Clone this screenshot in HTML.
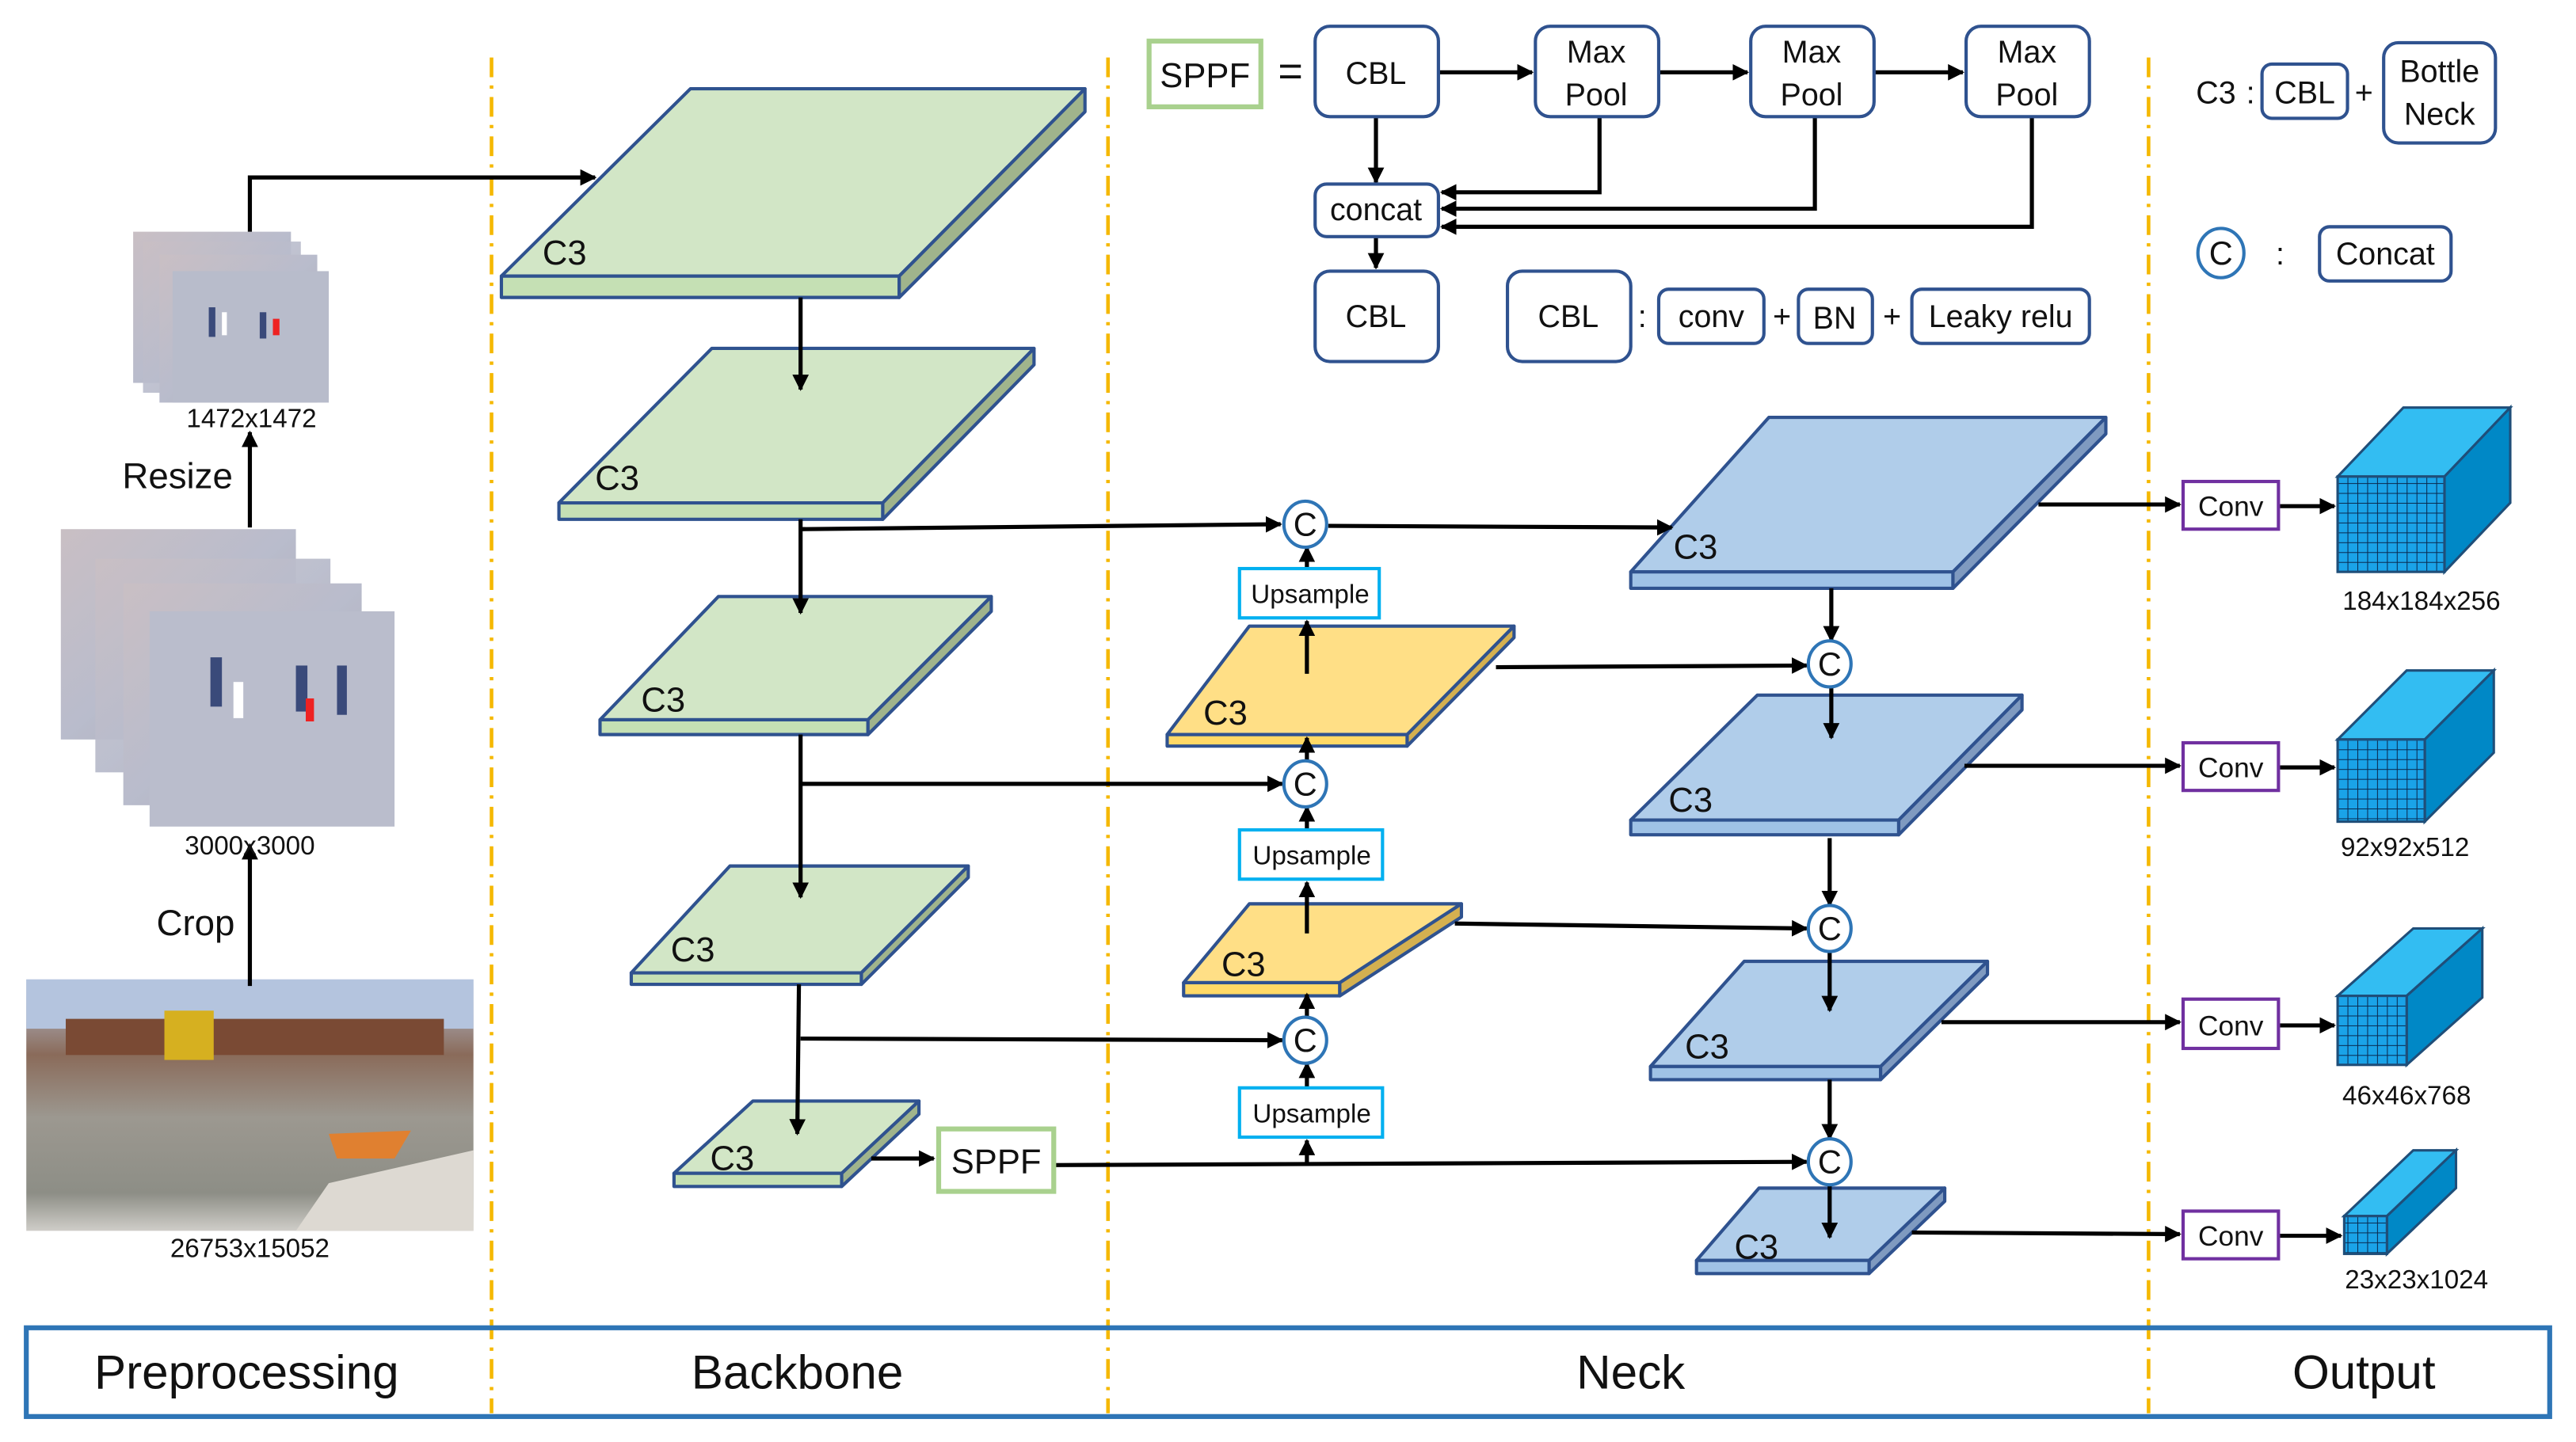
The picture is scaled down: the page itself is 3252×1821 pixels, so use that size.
<!DOCTYPE html>
<html><head><meta charset="utf-8"><style>html,body{margin:0;padding:0;background:#fff}svg{display:block}text{font-family:"Liberation Sans",sans-serif;fill:#111}</style></head><body>
<svg width="3252" height="1821" viewBox="0 0 1567 877.5" preserveAspectRatio="none" xmlns="http://www.w3.org/2000/svg">
<defs>
<marker id="a" markerWidth="10" markerHeight="10" refX="9" refY="5" orient="auto" markerUnits="userSpaceOnUse"><path d="M0,0 L10,5 L0,10 z" fill="#000"/></marker>
<pattern id="g" width="6" height="6" patternUnits="userSpaceOnUse"><rect width="6" height="6" fill="#1aa3e8"/><path d="M0,0H6M0,0V6" stroke="#0a2a50" stroke-width="1"/></pattern>
<linearGradient id="ph" x1="0" y1="0" x2="1" y2="1"><stop offset="0" stop-color="#c9bfc4"/><stop offset="0.5" stop-color="#b9bccc"/><stop offset="1" stop-color="#a9a7b0"/></linearGradient>
<linearGradient id="big" x1="0" y1="0" x2="0" y2="1"><stop offset="0" stop-color="#b8c6dc"/><stop offset="0.3" stop-color="#8a6b5a"/><stop offset="0.55" stop-color="#9c9890"/><stop offset="0.85" stop-color="#8d8e86"/><stop offset="1" stop-color="#cfcdc8"/></linearGradient>
</defs>

<g stroke="#f5b800" stroke-width="2.2" stroke-dasharray="12,5,2,5">
<line x1="299" y1="35" x2="299" y2="860"/><line x1="674" y1="35" x2="674" y2="860"/><line x1="1307" y1="35" x2="1307" y2="860"/>
</g>

<g>
<rect x="81" y="141" width="96" height="92" fill="url(#ph)"/>
<rect x="87" y="147" width="96" height="92" fill="url(#ph)" opacity="0.9"/>
<rect x="97" y="155" width="96" height="90" fill="url(#ph)"/>
<rect x="105" y="165" width="95" height="80" fill="#b8bccb"/>
<g fill="#3a4a7a"><rect x="127" y="187" width="4" height="18"/><rect x="158" y="190" width="4" height="16"/></g>
<rect x="135" y="190" width="3" height="14" fill="#fff"/><rect x="166" y="194" width="4" height="10" fill="#e22"/>
<rect x="37" y="322" width="143" height="128" fill="url(#ph)"/>
<rect x="58" y="340" width="143" height="130" fill="url(#ph)" opacity="0.95"/>
<rect x="75" y="355" width="145" height="135" fill="url(#ph)"/>
<rect x="91" y="372" width="149" height="131" fill="#babdcc"/>
<g fill="#3a4a7a"><rect x="128" y="400" width="7" height="30"/><rect x="180" y="405" width="7" height="28"/><rect x="205" y="405" width="6" height="30"/></g>
<rect x="142" y="415" width="6" height="22" fill="#fff"/><rect x="186" y="425" width="5" height="14" fill="#e22"/>
<rect x="16" y="596" width="272" height="153" fill="url(#big)"/>
<rect x="16" y="596" width="272" height="30" fill="#b4c4de"/>
<rect x="40" y="620" width="230" height="22" fill="#7a4a34"/>
<rect x="100" y="615" width="30" height="30" fill="#d6b020"/>
<polygon points="200,720 288,700 288,749 180,749" fill="#ddd9d2"/>
<polygon points="200,690 250,688 240,705 205,705" fill="#e08030"/>
</g>

<g stroke="#2f528f" stroke-width="2" stroke-linejoin="round">
<g fill="#d2e6c6">
<polygon points="420,54 660,54 547,168 305,168"/><rect x="305" y="168" width="242" height="13" fill="#c5e0b4"/><polygon points="547,168 660,54 660,68 547,181" fill="#a0b48c"/>
<polygon points="433,212 629,212 537,306 340,306"/><rect x="340" y="306" width="197" height="10" fill="#c5e0b4"/><polygon points="537,306 629,212 629,222 537,316" fill="#a0b48c"/>
<polygon points="437,363 603,363 528,438 365,438"/><rect x="365" y="438" width="163" height="9" fill="#c5e0b4"/><polygon points="528,438 603,363 603,372 528,447" fill="#a0b48c"/>
<polygon points="444,527 589,527 524,592 384,592"/><rect x="384" y="592" width="140" height="7" fill="#c5e0b4"/><polygon points="524,592 589,527 589,534 524,599" fill="#a0b48c"/>
<polygon points="458,670 559,670 512,714 410,714"/><rect x="410" y="714" width="102" height="8" fill="#c5e0b4"/><polygon points="512,714 559,670 559,678 512,722" fill="#a0b48c"/>
</g>
<g fill="#ffdf86">
<polygon points="760,381 921,381 856,447 710,447"/><rect x="710" y="447" width="146" height="7" fill="#ffd966"/><polygon points="856,447 921,381 921,388 856,454" fill="#d4b050"/>
<polygon points="760,550 889,550 815,598 720,598"/><rect x="720" y="598" width="95" height="8" fill="#ffd966"/><polygon points="815,598 889,550 889,558 815,606" fill="#d4b050"/>
</g>
<g fill="#b0cdea">
<polygon points="1076,254 1281,254 1188,348 992,348"/><rect x="992" y="348" width="196" height="10" fill="#9fc2e6"/><polygon points="1188,348 1281,254 1281,264 1188,358" fill="#7f9ac0"/>
<polygon points="1069,423 1230,423 1155,499 992,499"/><rect x="992" y="499" width="163" height="9" fill="#9fc2e6"/><polygon points="1155,499 1230,423 1230,432 1155,508" fill="#7f9ac0"/>
<polygon points="1061,585 1209,585 1144,649 1004,649"/><rect x="1004" y="649" width="140" height="8" fill="#9fc2e6"/><polygon points="1144,649 1209,585 1209,593 1144,657" fill="#7f9ac0"/>
<polygon points="1070,723 1183,723 1137,767 1032,767"/><rect x="1032" y="767" width="105" height="8" fill="#9fc2e6"/><polygon points="1137,767 1183,723 1183,731 1137,775" fill="#7f9ac0"/>
</g>
</g>
<g font-size="21">
<text x="330" y="161">C3</text><text x="362" y="298">C3</text><text x="390" y="433">C3</text><text x="408" y="585">C3</text><text x="432" y="712">C3</text>
<text x="732" y="441">C3</text><text x="743" y="594">C3</text>
<text x="1018" y="340">C3</text><text x="1015" y="494">C3</text><text x="1025" y="644">C3</text><text x="1055" y="766">C3</text>
</g>

<g stroke="#000" stroke-width="2.5" fill="none" marker-end="url(#a)">
<polyline points="152,141 152,108 362,108"/>
<line x1="152" y1="321" x2="152" y2="263"/>
<line x1="152" y1="600" x2="152" y2="514"/>
<line x1="487" y1="181" x2="487" y2="237"/>
<line x1="487" y1="316" x2="487" y2="373"/>
<line x1="487" y1="447" x2="487" y2="546"/>
<polyline points="486,599 485,690"/>
<polyline points="487,322 779,319"/>
<polyline points="487,477 780,477"/>
<polyline points="487,632 780,633"/>
<line x1="530" y1="705" x2="568" y2="705"/>
<line x1="641" y1="709" x2="1099" y2="707"/>
<line x1="795" y1="709" x2="795" y2="694"/>
<line x1="795" y1="662" x2="795" y2="647"/>
<line x1="795" y1="620" x2="795" y2="605"/>
<line x1="795" y1="568" x2="795" y2="537"/>
<line x1="795" y1="505" x2="795" y2="491"/>
<line x1="795" y1="463" x2="795" y2="449"/>
<line x1="795" y1="410" x2="795" y2="378"/>
<line x1="795" y1="346" x2="795" y2="333"/>
<line x1="808" y1="320" x2="1017" y2="321"/>
<line x1="910" y1="406" x2="1099" y2="405"/>
<line x1="885" y1="562" x2="1099" y2="565"/>
<line x1="1114" y1="358" x2="1114" y2="390"/>
<line x1="1114" y1="418" x2="1114" y2="449"/>
<line x1="1113" y1="510" x2="1113" y2="551"/>
<line x1="1113" y1="579" x2="1113" y2="615"/>
<line x1="1113" y1="657" x2="1113" y2="693"/>
<line x1="1113" y1="720" x2="1113" y2="753"/>
<line x1="1240" y1="307" x2="1326" y2="307"/>
<line x1="1195" y1="466" x2="1326" y2="466"/>
<line x1="1181" y1="622" x2="1326" y2="622"/>
<line x1="1163" y1="750" x2="1326" y2="751"/>
<line x1="1387" y1="308" x2="1420" y2="308"/>
<line x1="1387" y1="467" x2="1420" y2="467"/>
<line x1="1387" y1="624" x2="1420" y2="624"/>
<line x1="1387" y1="752" x2="1424" y2="752"/>
<line x1="875" y1="44" x2="932" y2="44"/>
<line x1="1009" y1="44" x2="1063" y2="44"/>
<line x1="1140" y1="44" x2="1194" y2="44"/>
<line x1="837" y1="71" x2="837" y2="111"/>
<line x1="837" y1="144" x2="837" y2="163"/>
<polyline points="973,71 973,117 877,117"/>
<polyline points="1104,71 1104,127 877,127"/>
<polyline points="1236,71 1236,138 877,138"/>
</g>

<g fill="#fff" stroke="#2e75b6" stroke-width="2">
<ellipse cx="794" cy="319" rx="13" ry="14"/><ellipse cx="794" cy="477" rx="13" ry="14"/><ellipse cx="794" cy="633" rx="13" ry="14"/>
<ellipse cx="1113" cy="404" rx="13" ry="14"/><ellipse cx="1113" cy="565" rx="13" ry="14"/><ellipse cx="1113" cy="707" rx="13" ry="14"/>
<ellipse cx="1351" cy="154" rx="14" ry="15"/>
</g>
<g font-size="20" text-anchor="middle">
<text x="794" y="326">C</text><text x="794" y="484">C</text><text x="794" y="640">C</text>
<text x="1113" y="411">C</text><text x="1113" y="572">C</text><text x="1113" y="714">C</text><text x="1351" y="161">C</text>
</g>

<g fill="#fff" stroke="#00b0f0" stroke-width="2">
<rect x="754" y="346" width="85" height="30"/><rect x="754" y="505" width="87" height="30"/><rect x="754" y="662" width="87" height="30"/>
</g>
<g font-size="16" text-anchor="middle"><text x="797" y="367">Upsample</text><text x="798" y="526">Upsample</text><text x="798" y="683">Upsample</text></g>
<rect x="571" y="687" width="70" height="38" fill="#fff" stroke="#a9d18e" stroke-width="3"/>
<text x="606" y="714" font-size="21" text-anchor="middle">SPPF</text>
<g fill="#fff" stroke="#7030a0" stroke-width="2">
<rect x="1328" y="293" width="58" height="29"/><rect x="1328" y="452" width="58" height="29"/><rect x="1328" y="608" width="58" height="30"/><rect x="1328" y="737" width="58" height="29"/>
</g>
<g font-size="17" text-anchor="middle"><text x="1357" y="314">Conv</text><text x="1357" y="473">Conv</text><text x="1357" y="630">Conv</text><text x="1357" y="758">Conv</text></g>

<g stroke="#1f4e79" stroke-width="1.5">
<polygon points="1422,290 1462,248 1527,248 1487,290" fill="#33bdf2"/><polygon points="1487,290 1527,248 1527,306 1487,348" fill="#0088c6"/><rect x="1422" y="290" width="65" height="58" fill="url(#g)"/>
<polygon points="1422,450 1464,408 1517,408 1475,450" fill="#33bdf2"/><polygon points="1475,450 1517,408 1517,458 1475,500" fill="#0088c6"/><rect x="1422" y="450" width="53" height="50" fill="url(#g)"/>
<polygon points="1422,606 1468,565 1510,565 1464,606" fill="#33bdf2"/><polygon points="1464,606 1510,565 1510,607 1464,648" fill="#0088c6"/><rect x="1422" y="606" width="42" height="42" fill="url(#g)"/>
<polygon points="1426,740 1468,700 1494,700 1452,740" fill="#33bdf2"/><polygon points="1452,740 1494,700 1494,723 1452,763" fill="#0088c6"/><rect x="1426" y="740" width="26" height="23" fill="url(#g)"/>
</g>
<g font-size="16" text-anchor="middle" fill="#222">
<text x="1473" y="371">184x184x256</text><text x="1463" y="521">92x92x512</text><text x="1464" y="672">46x46x768</text><text x="1470" y="784">23x23x1024</text>
<text x="153" y="260">1472x1472</text><text x="152" y="520">3000x3000</text><text x="152" y="765">26753x15052</text>
</g>
<text x="108" y="297" font-size="22" text-anchor="middle">Resize</text>
<text x="119" y="569" font-size="22" text-anchor="middle">Crop</text>

<rect x="699" y="25" width="68" height="40" fill="#fff" stroke="#a9d18e" stroke-width="3"/>
<text x="733" y="53" font-size="21" text-anchor="middle">SPPF</text>
<text x="785" y="52" font-size="26" text-anchor="middle">=</text>
<g fill="#fff" stroke="#2f528f" stroke-width="2">
<rect x="800" y="16" width="75" height="55" rx="9"/><rect x="934" y="16" width="75" height="55" rx="9"/><rect x="1065" y="16" width="75" height="55" rx="9"/><rect x="1196" y="16" width="75" height="55" rx="9"/>
<rect x="800" y="112" width="75" height="32" rx="7"/><rect x="800" y="165" width="75" height="55" rx="9"/><rect x="917" y="165" width="75" height="55" rx="9"/>
<rect x="1009" y="176" width="64" height="33" rx="6"/><rect x="1094" y="176" width="45" height="33" rx="6"/><rect x="1163" y="176" width="108" height="33" rx="6"/>
<rect x="1376" y="39" width="52" height="33" rx="6"/><rect x="1450" y="26" width="68" height="61" rx="9"/><rect x="1411" y="138" width="80" height="33" rx="6"/>
</g>
<g font-size="19" text-anchor="middle">
<text x="837" y="51">CBL</text>
<text x="971" y="38">Max</text><text x="971" y="64">Pool</text>
<text x="1102" y="38">Max</text><text x="1102" y="64">Pool</text>
<text x="1233" y="38">Max</text><text x="1233" y="64">Pool</text>
<text x="837" y="134">concat</text><text x="837" y="199">CBL</text><text x="954" y="199">CBL</text>
<text x="999" y="199">:</text><text x="1041" y="199">conv</text><text x="1084" y="199">+</text><text x="1116" y="200">BN</text><text x="1151" y="199">+</text><text x="1217" y="199">Leaky relu</text>
<text x="1348" y="63">C3</text><text x="1369" y="63">:</text><text x="1402" y="63">CBL</text><text x="1438" y="63">+</text>
<text x="1484" y="50">Bottle</text><text x="1484" y="76">Neck</text>
<text x="1387" y="161">:</text><text x="1451" y="161">Concat</text>
</g>

<rect x="16" y="808" width="1535" height="54" fill="none" stroke="#2e75b6" stroke-width="3"/>
<g font-size="29" text-anchor="middle">
<text x="150" y="845">Preprocessing</text><text x="485" y="845">Backbone</text><text x="992" y="845">Neck</text><text x="1438" y="845">Output</text>
</g>
</svg>
</body></html>
